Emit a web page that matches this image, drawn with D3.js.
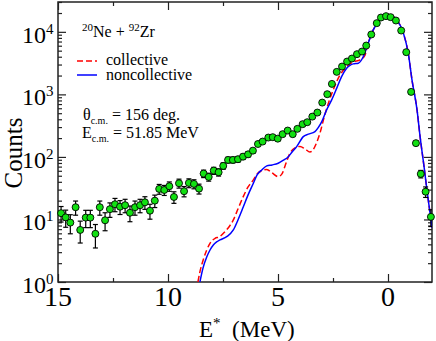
<!DOCTYPE html>
<html>
<head>
<meta charset="utf-8">
<script src="https://cdn.jsdelivr.net/npm/d3@7"></script>
<style>
  body { margin: 0; background: #fff; }
  text { font-family: "Liberation Serif", "Times New Roman", serif; fill: #000; }
</style>
</head>
<body>
<div class="spectrum"></div>
<script>
// measured spectrum (excitation energy in MeV, counts, error)
const energy = [14.86, 14.65, 14.44, 14.20, 13.99, 13.74, 13.53, 13.30, 13.10, 12.86,
  12.64, 12.41, 12.18, 11.95, 11.73, 11.50, 11.27, 11.05, 10.82, 10.60,
  10.40, 10.17, 9.94, 9.73, 9.50, 9.27, 9.05, 8.82, 8.59, 8.38,
  8.15, 7.92, 7.70, 7.49, 7.27, 7.05, 6.82, 6.59, 6.36, 6.14,
  5.91, 5.70, 5.44, 5.24, 5.01, 4.79, 4.56, 4.33, 4.12, 3.88,
  3.67, 3.44, 3.21, 2.99, 2.76, 2.55, 2.33, 2.09, 1.86, 1.64,
  1.41, 1.18, 0.99, 0.76, 0.51, 0.32, 0.09, -0.12, -0.36, -0.60,
  -0.83, -1.05, -1.27, -1.49, -1.71, -1.95];
const counts = [12.6, 10.8, 8.9, 15.7, 6.8, 10.7, 10.7, 5.9, 15.7, 9.7,
  14.6, 17.5, 16.0, 16.9, 12.8, 15.7, 16.9, 18.8, 13.8, 20.0,
  30.8, 29.6, 34.0, 22.9, 37.9, 28.3, 38.4, 37.0, 31.1, 54.1,
  47.9, 60.4, 56.9, 71.8, 89.5, 89.5, 91.9, 101, 110, 126,
  161, 176, 204, 207, 196, 231, 264, 231, 281, 334,
  359, 441, 512, 739, 1007, 1472, 2291, 2786, 3350, 3741,
  4397, 4842, 6036, 9057, 13772, 16940, 17830, 17180, 15170, 10490,
  4732, 1096, 166, 53.5, 27.8, 11.0];
const errors = [3.5, 3.3, 3.0, 4.0, 2.6, 3.3, 3.3, 2.4, 4.0, 3.1,
  3.8, 4.2, 4.0, 4.1, 3.6, 4.0, 4.1, 4.3, 3.7, 4.5,
  5.5, 5.4, 5.8, 4.8, 6.2, 5.3, 6.2, 6.1, 5.6, 7.4,
  6.9, 7.8, 7.5, 8.5, 9.5, 9.5, 9.6, 10, 10.5, 11,
  13, 13, 14, 14, 14, 15, 16, 15, 17, 18,
  19, 21, 23, 27, 32, 38, 48, 53, 58, 61,
  66, 70, 78, 95, 117, 130, 134, 131, 123, 102,
  69, 33, 13, 7.3, 5.3, 3.3];

// calculations
const collE = [8.64, 8.55, 8.40, 8.24, 8.09, 7.86, 7.67, 7.41, 7.23, 7.03,
  6.82, 6.58, 6.36, 6.12, 5.95, 5.74, 5.51, 5.27, 4.99, 4.82,
  4.68, 4.45, 4.23, 4.00, 3.77, 3.55, 3.41, 3.27, 3.09, 2.91,
  2.71, 2.49, 2.18, 1.88, 1.58, 1.27, 1.05, 0.90, 0.67, 0.36,
  0.18, -0.01, -0.18, -0.40, -0.70, -0.92, -1.09, -1.32, -1.46, -1.64,
  -1.77, -1.91, -2.0];
const collY = [1.0, 1.45, 2.25, 3.25, 4.16, 5.0, 5.25, 6.38, 7.59, 9.82,
  14.7, 23.2, 33.1, 42.9, 53.5, 60.4, 63.1, 55.5, 48.4, 53.5,
  71.8, 116, 139, 147, 134, 120, 129, 161, 242, 421,
  723, 1180, 2051, 2754, 3311, 3565, 4207, 6592, 10770, 15560,
  17700, 18710, 18030, 15560, 9530, 4560, 1706, 565, 209, 69.2,
  29.6, 12.7, 7.3];
const noncE = [8.55, 8.41, 8.24, 8.09, 7.94, 7.79, 7.64, 7.33, 7.03, 6.82,
  6.58, 6.36, 6.12, 5.95, 5.74, 5.51, 5.27, 4.99, 4.77, 4.53,
  4.36, 4.15, 3.85, 3.62, 3.32, 3.18, 3.01, 2.79, 2.56, 2.33,
  2.11, 1.88, 1.73, 1.58, 1.35, 1.12, 0.90, 0.67, 0.36, 0.18,
  -0.01, -0.18, -0.40, -0.70, -0.92, -1.09, -1.32, -1.46, -1.64, -1.77,
  -1.91, -2.0];
const noncY = [1.0, 1.67, 2.51, 3.25, 3.91, 4.37, 4.70, 5.31, 6.79, 9.82,
  15.8, 24.7, 37.9, 51.5, 61.9, 71.8, 74.5, 79.3, 87.9, 101,
  120, 146, 211, 231, 254, 291, 367, 565, 817, 1257,
  1928, 2624, 2911, 3076, 3155, 4027, 6592, 10770, 15560, 17700,
  18710, 18030, 15560, 9530, 4560, 1706, 565, 209, 69.2, 29.6,
  12.7, 7.3];

const xTicks = [15, 10, 5, 0];
const xMinor = [12.5, 7.5, 2.5];
const yTicks = [1, 10, 100, 1000, 10000];

const width = 436;
const height = 341;
const padL = 58, padR = 432, padT = 2, padB = 282;

const svg = d3.select('.spectrum')
  .append('svg')
  .attr('width', width)
  .attr('height', height)

const x = d3.scaleLinear().domain([15, -2]).range([padL, padR]);
const y = d3.scaleLog().domain([1, 30000]).range([padB, padT]);

let yMinor = [];
yTicks.forEach(function(t) {
  for (let k = 2; k < 10; k++) {
    if (t * k <= 30000) yMinor.push(t * k);
  }
});

// frame
svg.append('rect')
  .attr('x', padL).attr('y', padT)
  .attr('width', padR - padL).attr('height', padB - padT)
  .attr('fill', 'none').attr('stroke', '#222').attr('stroke-width', 1.5);

function tickAxis(axis, tr) {
  const g = svg.append('g').attr('transform', tr).call(axis);
  g.select('.domain').remove();
  g.selectAll('line').attr('stroke', '#222').attr('stroke-width', 1.2);
  return g;
}

// ticks pointing inward on all four sides
tickAxis(d3.axisTop(x).tickValues(xTicks).tickSize(8).tickFormat(''), `translate(0,${padB})`);
tickAxis(d3.axisTop(x).tickValues(xMinor).tickSize(4).tickFormat(''), `translate(0,${padB})`);
tickAxis(d3.axisBottom(x).tickValues(xTicks).tickSize(8).tickFormat(''), `translate(0,${padT})`);
tickAxis(d3.axisBottom(x).tickValues(xMinor).tickSize(4).tickFormat(''), `translate(0,${padT})`);
tickAxis(d3.axisRight(y).tickValues(yTicks).tickSize(8).tickFormat(''), `translate(${padL},0)`);
tickAxis(d3.axisRight(y).tickValues(yMinor).tickSize(4).tickFormat(''), `translate(${padL},0)`);
tickAxis(d3.axisLeft(y).tickValues(yTicks).tickSize(8).tickFormat(''), `translate(${padR},0)`);
tickAxis(d3.axisLeft(y).tickValues(yMinor).tickSize(4).tickFormat(''), `translate(${padR},0)`);

// x labels
svg.selectAll('.xlab')
  .data(xTicks)
  .enter()
  .append('text')
  .attr('class', 'xlab')
  .attr('x', function(d) { return x(d); })
  .attr('y', padB + 24)
  .attr('text-anchor', 'middle')
  .attr('font-size', 28)
  .text(function(d) { return d; });

// y labels 10^n
let ylab = svg.selectAll('.ylab')
  .data(yTicks)
  .enter()
  .append('text')
  .attr('class', 'ylab')
  .attr('y', function(d) { return y(d) + 11; })
  .attr('font-size', 24);
ylab.append('tspan').attr('x', 22).text('10');
ylab.append('tspan')
  .attr('dy', -9)
  .attr('font-size', 15)
  .text(function(d) { return Math.round(Math.log10(d)); });

// axis titles
svg.append('text')
  .attr('transform', 'translate(22,153) rotate(-90)')
  .attr('text-anchor', 'middle')
  .attr('font-size', 25)
  .text('Counts');

let xt = svg.append('text')
  .attr('x', 199)
  .attr('y', 337)
  .attr('font-size', 23);
xt.append('tspan').text('E');
xt.append('tspan').attr('dy', -9).attr('font-size', 15).text('*');
xt.append('tspan').attr('dy', 9).text('\u00a0 (MeV)');

// curves
svg.append('clipPath').attr('id', 'plotclip')
  .append('rect').attr('x', padL).attr('y', padT)
  .attr('width', padR - padL).attr('height', padB - padT);

const line = d3.line()
  .x(function(d) { return x(d[0]); })
  .y(function(d) { return y(d[1]); })
  .curve(d3.curveMonotoneX);

svg.append('path')
  .datum(d3.zip(collE, collY))
  .attr('d', line)
  .attr('clip-path', 'url(#plotclip)')
  .attr('fill', 'none')
  .attr('stroke', '#ff0000')
  .attr('stroke-width', 1.5)
  .attr('stroke-dasharray', '6,3');

svg.append('path')
  .datum(d3.zip(noncE, noncY))
  .attr('d', line)
  .attr('clip-path', 'url(#plotclip)')
  .attr('fill', 'none')
  .attr('stroke', '#0000ff')
  .attr('stroke-width', 1.5);

// data points with error bars
const pts = d3.zip(energy, counts, errors);

let bars = svg.append('g').attr('clip-path', 'url(#plotclip)');
pts.forEach(function(d) {
  const cx = x(d[0]);
  const y1 = y(d[1] + d[2]);
  const y2 = y(Math.max(d[1] - d[2], 1));
  bars.append('line').attr('x1', cx).attr('x2', cx).attr('y1', y1).attr('y2', y2)
    .attr('stroke', '#000').attr('stroke-width', 1.2);
  bars.append('line').attr('x1', cx - 2.5).attr('x2', cx + 2.5).attr('y1', y1).attr('y2', y1)
    .attr('stroke', '#000').attr('stroke-width', 1.2);
  bars.append('line').attr('x1', cx - 2.5).attr('x2', cx + 2.5).attr('y1', y2).attr('y2', y2)
    .attr('stroke', '#000').attr('stroke-width', 1.2);
});

svg.append('g')
  .selectAll('circle')
  .data(pts)
  .enter()
  .append('circle')
  .attr('cx', function(d) { return x(d[0]); })
  .attr('cy', function(d) { return y(d[1]); })
  .attr('r', 3.5)
  .attr('fill', '#11e011')
  .attr('stroke', '#000')
  .attr('stroke-width', 0.9);

// legend and annotations
svg.append('line').attr('x1', 77).attr('x2', 97).attr('y1', 61).attr('y2', 61)
  .attr('stroke', '#ff0000').attr('stroke-width', 1.5).attr('stroke-dasharray', '6,3');
svg.append('line').attr('x1', 77).attr('x2', 97).attr('y1', 75).attr('y2', 75)
  .attr('stroke', '#0000ff').attr('stroke-width', 1.5);
svg.append('text').attr('x', 106).attr('y', 65).attr('font-size', 16).text('collective');
svg.append('text').attr('x', 106).attr('y', 80).attr('font-size', 16).text('noncollective');

let title = svg.append('text').attr('x', 82).attr('y', 37).attr('font-size', 16);
title.append('tspan').attr('font-size', 11).attr('dy', -6).text('20');
title.append('tspan').attr('dy', 6).text('Ne + ');
title.append('tspan').attr('font-size', 11).attr('dy', -6).text('92');
title.append('tspan').attr('dy', 6).text('Zr');

let theta = svg.append('text').attr('x', 83).attr('y', 120).attr('font-size', 16);
theta.append('tspan').text('θ');
theta.append('tspan').attr('font-size', 10).attr('dy', 4).text('c.m.');
theta.append('tspan').attr('dy', -4).text(' = 156 deg.');

let ecm = svg.append('text').attr('x', 82).attr('y', 138).attr('font-size', 16);
ecm.append('tspan').text('E');
ecm.append('tspan').attr('font-size', 10).attr('dy', 4).text('c.m.');
ecm.append('tspan').attr('dy', -4).text(' = 51.85 MeV');
</script>
</body>
</html>
